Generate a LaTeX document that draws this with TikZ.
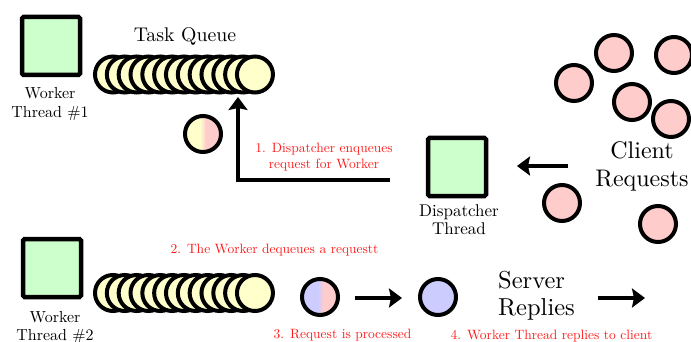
\documentclass[tikz,border=0pt]{standalone}
\usepackage{fontspec}
% one design size of Latin Modern at every size, so large text keeps its width
\setmainfont{lmroman10-regular}[Extension=.otf]
\usetikzlibrary{arrows.meta}

\definecolor{threadgreen}{HTML}{CCFFCC}
\definecolor{taskyellow}{HTML}{FFFFCC}
\definecolor{reqpink}{HTML}{FFCCCC}
\definecolor{replyblue}{HTML}{CCCCFF}
\definecolor{notered}{HTML}{FF1A1A}

% half-and-half fills for requests that change state
\pgfdeclarehorizontalshading{yeltopink}{100bp}{color(0bp)=(taskyellow); color(46bp)=(taskyellow); color(54bp)=(reqpink); color(100bp)=(reqpink)}
\pgfdeclarehorizontalshading{bluetopink}{100bp}{color(0bp)=(replyblue); color(47bp)=(replyblue); color(55bp)=(reqpink); color(100bp)=(reqpink)}

\tikzset{
  threadbox/.style={draw, line width=4.5pt, rounded corners=1.5pt, fill=threadgreen,
    minimum size=58pt, inner sep=0pt},
  ball/.style={circle, draw, line width=4pt, minimum size=36pt, inner sep=0pt},
  task/.style={ball, fill=taskyellow},
  req/.style={ball, fill=reqpink},
  reply/.style={ball, fill=replyblue},
  flow/.style={line width=4.5pt, -{Stealth[length=13pt,width=19pt,inset=2pt]}},
  note/.style={text=notered, font=\fontsize{13.5}{15.5}\selectfont, align=center, inner sep=0pt},
  caption/.style={align=center, inner sep=0pt},
}

\begin{document}
\begin{tikzpicture}[x=1pt, y=-1pt]
  \useasboundingbox (0,0) rectangle (691,342);

  % ---- worker thread #1 and its task queue ----
  \node[threadbox] (w1) at (51,46) {};
  % multi-line captions are placed by the baseline of their last line
  \node[caption, font=\fontsize{16}{18.5}\selectfont, anchor=base] (w1lbl) at (50,117.5)
    {Worker\\Thread \#1};
  \node[caption, font=\fontsize{19.8}{22}\selectfont, anchor=base] (qlbl) at (185,42) {Task Queue};
  \foreach \i in {0,...,12}
    \node[task] (qa\i) at ({113+11.83*\i},74.5) {};

  % request being handed to the queue
  \node[ball, shade, shading=yeltopink] (handoff) at (203,134) {};

  % ---- dispatcher ----
  \node[threadbox] (disp) at (457,167) {};
  \node[caption, font=\fontsize{17}{18}\selectfont, anchor=base] (displbl) at (459,234)
    {Dispatcher\\Thread};

  \coordinate (enqstart) at (390,180);
  \coordinate (enqtip) at (238,97);
  \draw[flow] (enqstart) -| (enqtip);
  \node[note, anchor=base] (n1) at (324,168.3) {1. Dispatcher enqueues\\request for Worker};

  % ---- incoming client requests ----
  \node[req] (c1) at (574,83) {};
  \node[req] (c2) at (614,53) {};
  \node[req] (c3) at (674,55) {};
  \node[req] (c4) at (632,102) {};
  \node[req] (c5) at (671,119) {};
  \node[req] (c6) at (562,203) {};
  \node[req] (c7) at (658,224) {};
  \node[caption, font=\fontsize{24}{28}\selectfont, anchor=base] (clbl) at (642,186)
    {Client\\Requests};

  \coordinate (inflow) at (568,166);
  \coordinate (intip) at (517,166);
  \draw[flow] (inflow) -- (intip);

  % ---- worker thread #2 ----
  \node[threadbox] (w2) at (52,268) {};
  \node[caption, font=\fontsize{16}{18}\selectfont, anchor=base] (w2lbl) at (55,340)
    {Worker\\Thread \#2};
  \foreach \i in {0,...,12}
    \node[task] (qb\i) at ({113+11.83*\i},293) {};
  \node[note, anchor=base] (n2) at (274.5,253) {2. The Worker dequeues a requestt};

  \node[ball, shade, shading=bluetopink] (work) at (320,297) {};
  \node[reply] (done) at (438,297) {};
  \coordinate (procstart) at (355,298);
  \coordinate (proctip) at (402,298);
  \draw[flow] (procstart) -- (proctip);
  \node[note, anchor=base] (n3) at (342.5,338) {3. Request is processed};

  \node[caption, align=left, font=\fontsize{24.5}{27}\selectfont, anchor=base west] (slbl)
    at (498,315) {Server\\Replies};
  \coordinate (outstart) at (598,298);
  \coordinate (outtip) at (645,298);
  \draw[flow] (outstart) -- (outtip);
  \node[note, anchor=base] (n4) at (551.5,339) {4. Worker Thread replies to client};
\end{tikzpicture}
\end{document}
